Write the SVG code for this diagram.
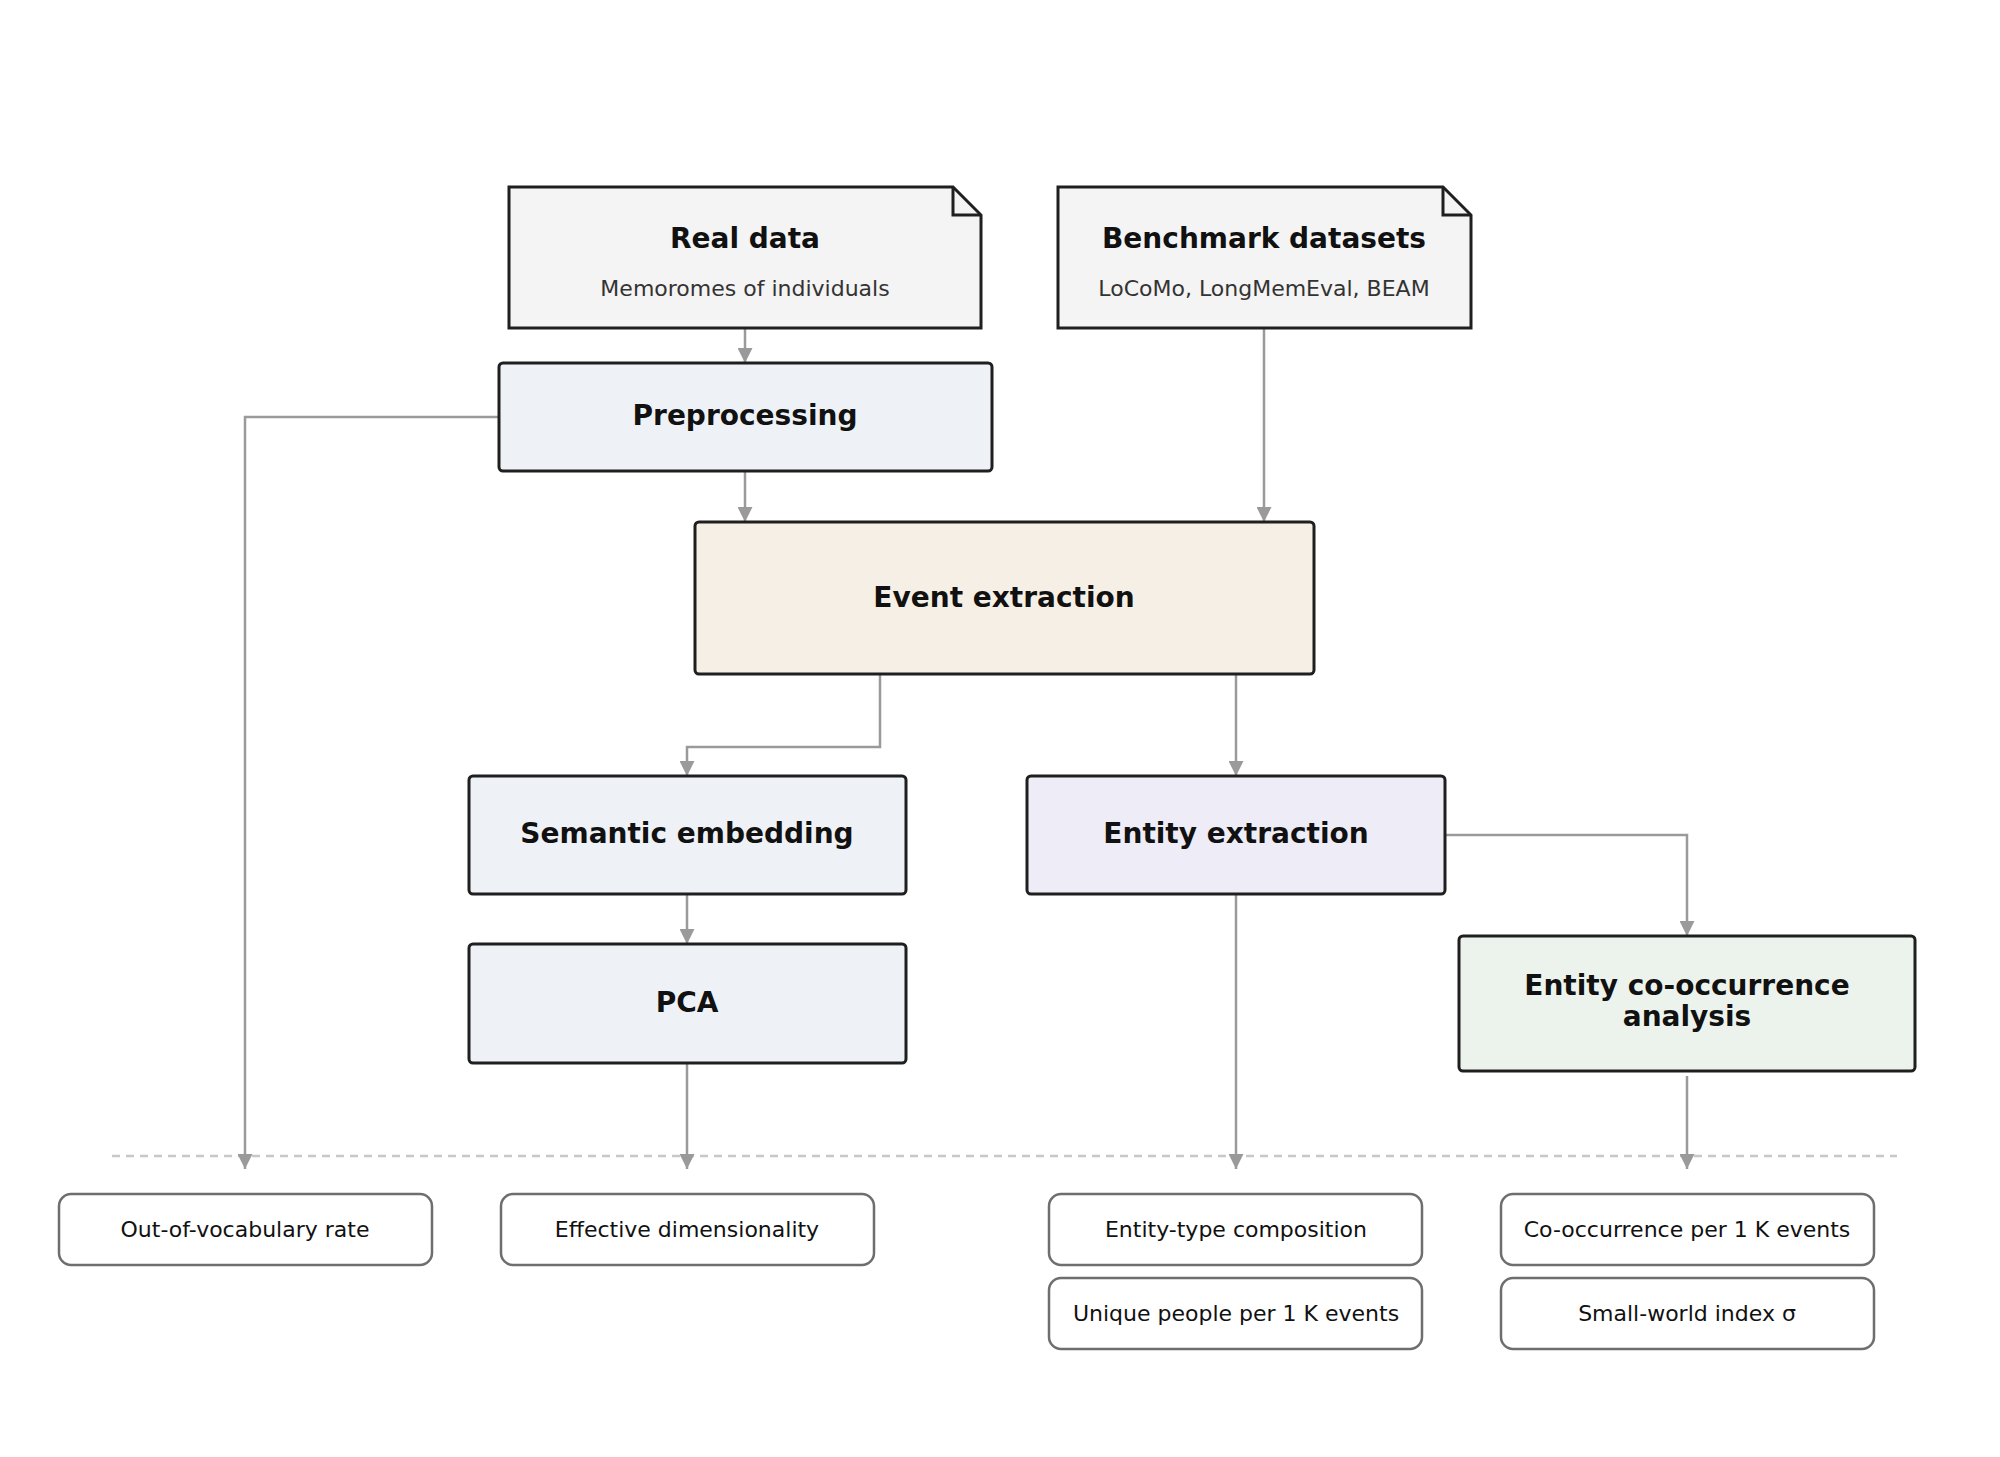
<svg xmlns="http://www.w3.org/2000/svg" width="2000" height="1457" viewBox="0 0 2000 1457">
<style>
.n{stroke:#1f1f1f;stroke-width:3}
.t{font-family:"DejaVu Sans",sans-serif;font-weight:bold;font-size:28px;fill:#111;text-anchor:middle}
.s{font-family:"DejaVu Sans",sans-serif;font-size:22px;fill:#333;text-anchor:middle}
.m{fill:#fff;stroke:#6e6e6e;stroke-width:2.5}
.ml{font-family:"DejaVu Sans",sans-serif;font-size:22px;fill:#111;text-anchor:middle}
.c{fill:none;stroke:#9a9a9a;stroke-width:2.5;marker-end:url(#a)}
</style>
<defs><marker id="a" viewBox="0 0 10 10" refX="10" refY="5" markerWidth="6" markerHeight="6" markerUnits="strokeWidth" orient="auto"><path d="M0,0L10,5L0,10z" fill="#9a9a9a"/></marker></defs>
<rect width="2000" height="1457" fill="#fff"/>
<line x1="112" y1="1156" x2="1897" y2="1156" stroke="#c8c8c8" stroke-width="2.5" stroke-dasharray="8,6"/>
<g id="connectors">
<path class="c" d="M745,328V363"/>
<path class="c" d="M745,471V522"/>
<path class="c" d="M1264,328V522"/>
<path class="c" d="M499,417H245V1169"/>
<path class="c" d="M880,674V747H687V776"/>
<path class="c" d="M1236,674V776"/>
<path class="c" d="M1445,835H1687V936"/>
<path class="c" d="M687,894V944"/>
<path class="c" d="M687,1063V1169"/>
<path class="c" d="M1236,894V1169"/>
<path class="c" d="M1687,1076V1169"/>
</g>
<g id="real"><path class="n" fill="#f4f4f4" d="M509,187H953L981,215V328H509Z"/><path class="n" fill="none" d="M953,187V215H981"/><text class="t" x="745" y="248">Real data</text><text class="s" x="745" y="296">Memoromes of individuals</text></g>
<g id="bench"><path class="n" fill="#f4f4f4" d="M1058,187H1443L1471,215V328H1058Z"/><path class="n" fill="none" d="M1443,187V215H1471"/><text class="t" x="1264" y="248">Benchmark datasets</text><text class="s" x="1264" y="296">LoCoMo, LongMemEval, BEAM</text></g>
<g id="pre"><rect class="n" fill="#eef1f6" x="499" y="363" width="493" height="108" rx="4"/><text class="t" x="745" y="425">Preprocessing</text></g>
<g id="event"><rect class="n" fill="#f6efe6" x="695" y="522" width="619" height="152" rx="4"/><text class="t" x="1004" y="607">Event extraction</text></g>
<g id="sem"><rect class="n" fill="#eef1f6" x="469" y="776" width="437" height="118" rx="4"/><text class="t" x="687" y="843">Semantic embedding</text></g>
<g id="ent"><rect class="n" fill="#eeecf6" x="1027" y="776" width="418" height="118" rx="4"/><text class="t" x="1236" y="843">Entity extraction</text></g>
<g id="pca"><rect class="n" fill="#eef1f6" x="469" y="944" width="437" height="119" rx="4"/><text class="t" x="687" y="1012">PCA</text></g>
<g id="cooc"><rect class="n" fill="#ecf3ec" x="1459" y="936" width="456" height="135" rx="4"/><text class="t" x="1687" y="995">Entity co-occurrence</text><text class="t" x="1687" y="1026">analysis</text></g>
<g id="m1"><rect class="m" x="59" y="1194" width="373" height="71" rx="12"/><text class="ml" x="245" y="1237">Out-of-vocabulary rate</text></g>
<g id="m2"><rect class="m" x="501" y="1194" width="373" height="71" rx="12"/><text class="ml" x="687" y="1237">Effective dimensionality</text></g>
<g id="m3"><rect class="m" x="1049" y="1194" width="373" height="71" rx="12"/><text class="ml" x="1236" y="1237">Entity-type composition</text></g>
<g id="m4"><rect class="m" x="1049" y="1278" width="373" height="71" rx="12"/><text class="ml" x="1236" y="1321">Unique people per 1 K events</text></g>
<g id="m5"><rect class="m" x="1501" y="1194" width="373" height="71" rx="12"/><text class="ml" x="1687" y="1237">Co-occurrence per 1 K events</text></g>
<g id="m6"><rect class="m" x="1501" y="1278" width="373" height="71" rx="12"/><text class="ml" x="1687" y="1321">Small-world index σ</text></g>
</svg>
